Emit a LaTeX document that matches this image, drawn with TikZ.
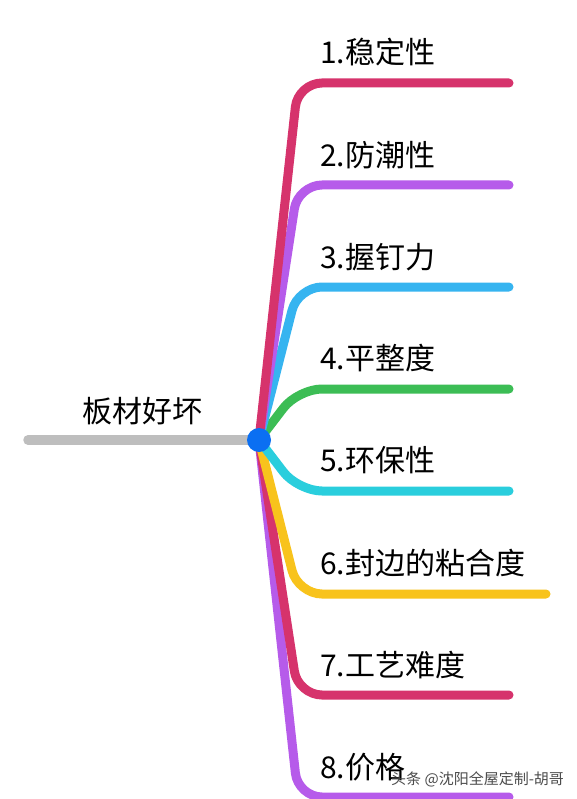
\documentclass[tikz,border=0pt]{standalone}
\usepackage{fontspec}
\setmainfont{Noto Sans CJK SC}
\definecolor{cpink}{HTML}{D6336C}
\definecolor{cpurple}{HTML}{B65BEA}
\definecolor{cblue}{HTML}{36B4F0}
\definecolor{cgreen}{HTML}{3CBD55}
\definecolor{ccyan}{HTML}{2ACEDD}
\definecolor{cyellow}{HTML}{F8C31C}
\definecolor{cgray}{HTML}{BEBEBE}
\definecolor{ccenter}{HTML}{0B6FF2}
\begin{document}
\begin{tikzpicture}[x=1pt,y=-1pt,
  branch/.style={line width=9pt, line cap=round, rounded corners=24pt},
  lbl/.style={anchor=west, inner sep=0pt, font=\fontsize{30}{30}\selectfont},
  hub/.style={circle, fill=ccenter, minimum size=24pt, inner sep=0pt},
]
\path[use as bounding box, fill=white] (0,0) rectangle (576,799);
\begin{scope}
\clip (0,0) rectangle (576,799);
\coordinate (c0) at (259,440);
\coordinate (r) at (28,440);
\draw[line width=9.5pt, line cap=round, cgray] (r) -- (c0);
\node[font=\fontsize{30}{30}\selectfont, inner sep=0pt] (root) at (142,411) {板材好坏};
% branches
\coordinate (k1) at (298,83);  \coordinate (e1) at (509,83);
\coordinate (k2) at (298,185); \coordinate (e2) at (509,185);
\coordinate (k3) at (298,287); \coordinate (e3) at (509,287);
\coordinate (k4) at (298,389); \coordinate (e4) at (509,389);
\coordinate (k5) at (298,491); \coordinate (e5) at (509,491);
\coordinate (k6) at (298,594); \coordinate (e6) at (546,594);
\coordinate (k7) at (298,695); \coordinate (e7) at (509,695);
\coordinate (k8) at (298,797); \coordinate (e8) at (509,797);
\draw[branch, cpurple] (c0) -- (k8) -- (e8);
\draw[branch, cpink]   (c0) -- (k7) -- (e7);
\draw[branch, cyellow] (c0) -- (k6) -- (e6);
\draw[branch, ccyan]   (c0) -- (k5) -- (e5);
\draw[branch, cgreen]  (c0) -- (k4) -- (e4);
\draw[branch, cblue]   (c0) -- (k3) -- (e3);
\draw[branch, cpurple] (c0) -- (k2) -- (e2);
\draw[branch, cpink]   (c0) -- (k1) -- (e1);
\node[hub] (c) at (c0) {};
% labels
\node[lbl] (l1) at (320,52)  {1.稳定性};
\node[lbl] (l2) at (320,155) {2.防潮性};
\node[lbl] (l3) at (320,257) {3.握钉力};
\node[lbl] (l4) at (320,358) {4.平整度};
\node[lbl] (l5) at (320,460) {5.环保性};
\node[lbl] (l6) at (320,563) {6.封边的粘合度};
\node[lbl] (l7) at (320,665) {7.工艺难度};
\node[lbl] (l8) at (320,767) {8.价格};
\node[anchor=west, inner sep=0pt, font=\fontsize{15}{15}\selectfont, text=black!70] (wm) at (391,779) {头条 @沈阳全屋定制-胡哥};
\end{scope}
\end{tikzpicture}
\end{document}
